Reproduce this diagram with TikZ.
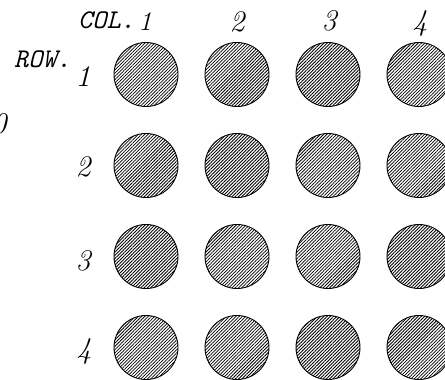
\documentclass[tikz,border=0pt]{standalone}
\usepackage{fontspec}
\usepackage{tikz}
\usetikzlibrary{patterns.meta,positioning}

\newcommand{\headfont}{\fontsize{27}{30}\selectfont\ttfamily\itshape}
\newcommand{\numfont}{\fontsize{30}{32}\selectfont\itshape}

\begin{document}
\begin{tikzpicture}[
    x=1pt, y=-1pt,
    every node/.style={inner sep=0pt},
    hole/.style={circle, draw=black, line width=0.9pt, minimum size=64pt, inner sep=0pt,
        pattern={Lines[angle=45, distance=2.3pt, line width=0.8pt]}},
    heading/.style={anchor=base west, font=\headfont},
    tag/.style={anchor=center, font=\numfont}
]
\useasboundingbox (0,0) rectangle (445,380);

% grid of holes
\foreach \r in {1,...,4} {
    \foreach \c in {1,...,4} {
        \node [hole] (hole-\r-\c) at ({146+91*(\c-1)}, {74.5+91*(\r-1)}) {};
    }
}

% column headings
\node [heading] (col-head) at (78,28) {COL.};
\node [tag, font=\fontsize{27}{30}\selectfont\itshape] (col-1) at (145,22) {1};
\node [tag] (col-2) at (237,22) {2};
\node [tag] (col-3) at (329,21) {3};
\node [tag] (col-4) at (420,23) {4};

% row headings
\node [heading] (row-head) at (14,67) {ROW.};
\node [tag] (row-1) at (83,77) {1};
\node [tag] (row-2) at (83,167) {2};
\node [tag] (row-3) at (83,261) {3};
\node [tag] (row-4) at (84,351) {4};

% cut-off numeral at the left edge
\node [tag] (edge-num) at (-1,124) {0};
\end{tikzpicture}
\end{document}
